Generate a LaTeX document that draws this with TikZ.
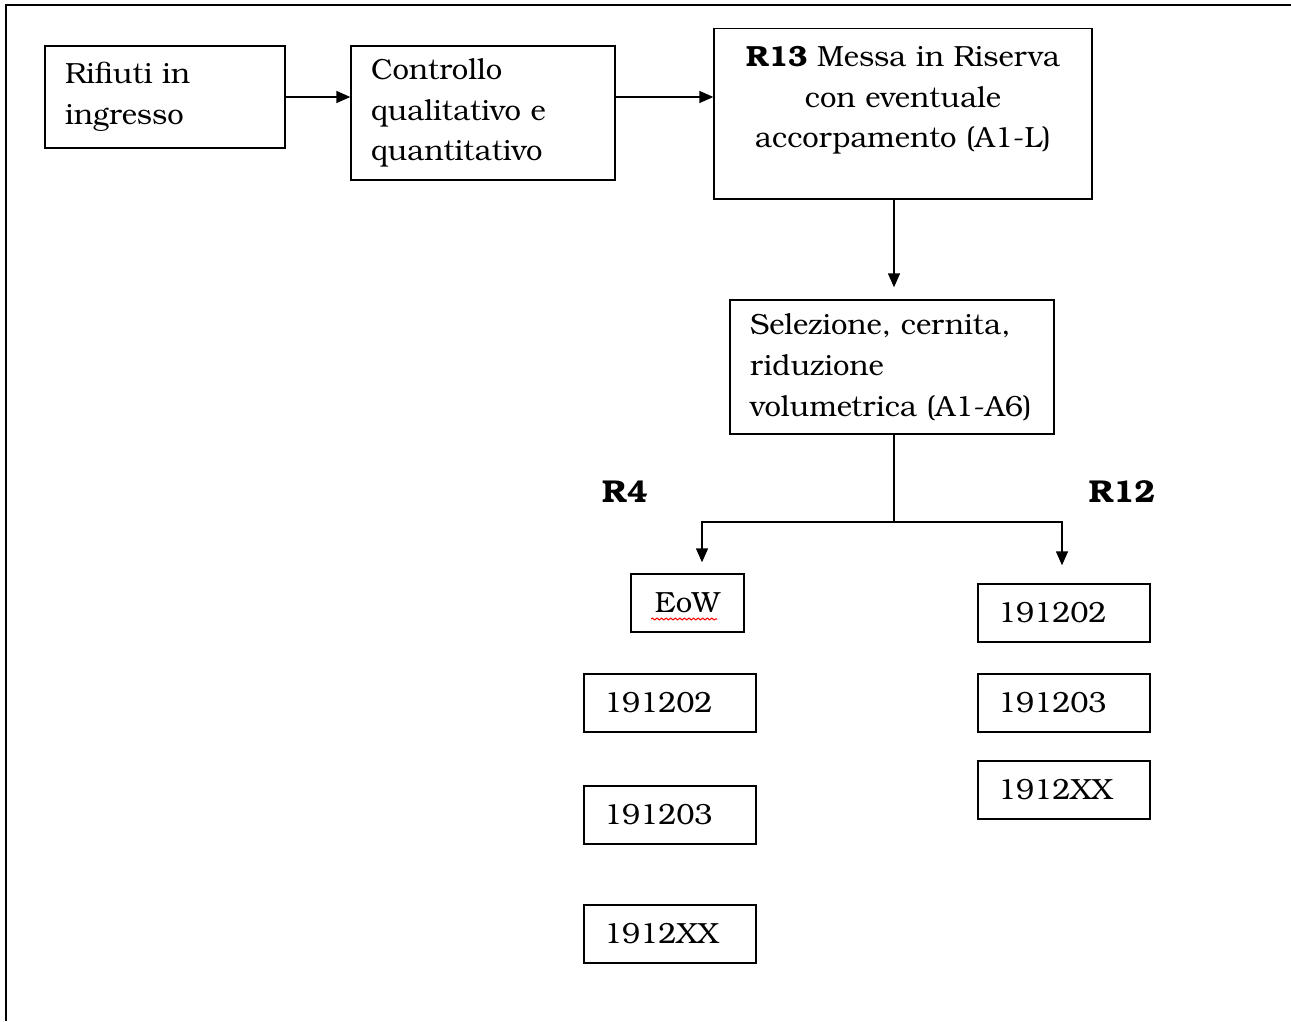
\documentclass[tikz,border=0pt]{standalone}
\usepackage{fontspec}
\setmainfont{TeX Gyre Bonum}
\usetikzlibrary{calc}
\usetikzlibrary{arrows.meta}
\usetikzlibrary{decorations.pathmorphing}

\tikzset{
  boite/.style={draw, line width=0.8pt, inner xsep=0.4cm, inner ysep=0.15cm,
    font=\fontsize{16.6pt}{23.2pt}\selectfont},
  codice/.style={boite, align=left, text width=2.64cm, minimum height=1.16cm},
  fleche/.style={line width=0.8pt, -{Triangle[length=0.28cm,width=0.24cm]}},
  etiq/.style={font=\fontsize{18pt}{20pt}\selectfont\bfseries}
}

\begin{document}
\begin{tikzpicture}[x=0.02cm, y=-0.02cm]

\useasboundingbox (0,0) rectangle (1291,1021);
\draw[line width=0.8pt] (5,5) -- (1291,5);
\draw[line width=0.8pt] (6,5) -- (6,1021);

\node[boite, align=left, text width=4.0cm, minimum height=2.04cm] (rifiuti) at (165,97) {Rifiuti in\\ingresso};
\node[boite, align=left, text width=4.48cm, minimum height=2.68cm] (controllo) at (483,113) {Controllo\\qualitativo e\\quantitativo};
\node[boite, align=center, text width=6.76cm, anchor=north, inner ysep=0.35cm, text depth=2.3cm] (riserva) at (903,28) {\textbf{R13} Messa in Riserva\\con eventuale\\accorpamento (A1-L)};
\node[boite, align=left, text width=5.68cm, minimum height=2.68cm] (selezione) at (892,367) {Selezione, cernita,\\riduzione\\volumetrica (A1-A6)};

\node[etiq] (r4) at (625,492) {R4};
\node[etiq] (r12) at (1122,492) {R12};

\node[boite, align=center, text width=1.46cm, minimum height=1.16cm] (eow) at (687.5,603) {EoW};
\node[codice] (sx1) at (670,703) {191202};
\node[codice] (sx2) at (670,815) {191203};
\node[codice] (sx3) at (670,934) {1912XX};
\node[codice] (dx1) at (1064,613) {191202};
\node[codice] (dx2) at (1064,703) {191203};
\node[codice] (dx3) at (1064,790) {1912XX};

\draw[red, line width=0.6pt, decorate, decoration={snake, amplitude=0.5pt, segment length=2.6pt}] (651,619) -- (717,619);

\coordinate (biforc) at (894,522);
\coordinate (ramosx) at (702,522);
\coordinate (ramodx) at (1062,522);

\draw[fleche] (rifiuti.east) -- (rifiuti.east -| controllo.west);
\draw[fleche] (controllo.east |- rifiuti.east) -- (rifiuti.east -| riserva.west);
\draw[fleche, shorten >=0.24cm] (biforc |- riserva.south) -- (biforc |- selezione.north);
\draw[line width=0.8pt] (biforc |- selezione.south) -- (biforc);
\draw[fleche, shorten >=0.22cm] (biforc) -- (ramosx) -- (ramosx |- eow.north);
\draw[fleche, shorten >=0.36cm] (biforc) -- (ramodx) -- (ramodx |- dx1.north);

\end{tikzpicture}
\end{document}
